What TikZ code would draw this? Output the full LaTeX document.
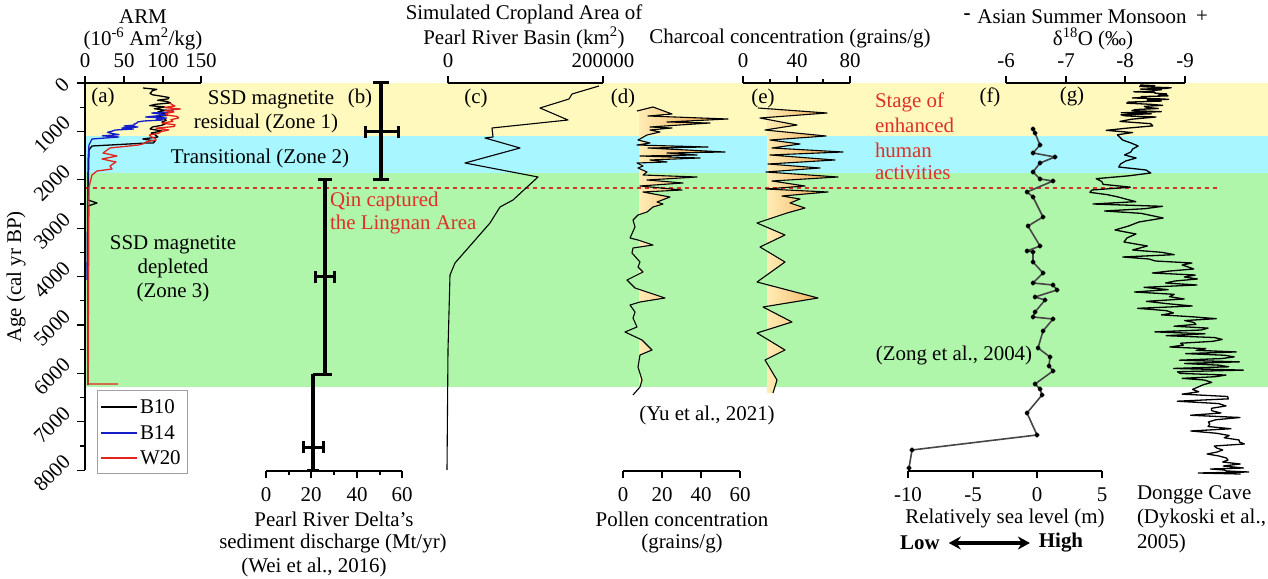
\documentclass[tikz,border=0pt]{standalone}
\usepackage{fontspec}
\setmainfont{Liberation Serif}
\usetikzlibrary{arrows.meta,calc}
\definecolor{bandY}{RGB}{255,249,190}
\definecolor{bandC}{RGB}{168,246,255}
\definecolor{bandG}{RGB}{176,246,170}
\definecolor{redtxt}{RGB}{222,48,38}
\definecolor{armblue}{RGB}{20,30,200}
\definecolor{armred}{RGB}{228,35,30}
\definecolor{cream}{RGB}{255,236,180}
\definecolor{orng}{RGB}{236,150,55}
\definecolor{seagray}{RGB}{70,70,70}
\definecolor{leggray}{RGB}{160,160,160}
\def\dpath{(637,111) -- (653,107) -- (672,114) -- (648,116) -- (728,119) -- (667,122) -- (710,123) -- (650,127) -- (672,128) -- (650,130) -- (660,132) -- (647,135) -- (638,140) -- (650,143) -- (637,145) -- (708,147) -- (648,148) -- (725,152) -- (667,153) -- (697,155) -- (640,156) -- (700,158) -- (650,160) -- (667,162) -- (637,163) -- (643,166) -- (638,168) -- (647,172) -- (643,175) -- (697,177) -- (647,180) -- (683,183) -- (640,186) -- (682,190) -- (643,192) -- (670,197) -- (657,202) -- (663,204) -- (653,207) -- (647,212) -- (638,215) -- (633,220) -- (635,227) -- (630,238) -- (638,240) -- (653,245) -- (633,248) -- (632,253) -- (640,262) -- (638,267) -- (643,272) -- (627,280) -- (635,288) -- (665,298) -- (640,302) -- (630,305) -- (635,312) -- (633,318) -- (637,327) -- (625,332) -- (642,340) -- (652,350) -- (640,355) -- (638,367) -- (642,380) -- (640,387) -- (633,395)}
\def\epath{(758,108) -- (827,113) -- (760,118) -- (797,125) -- (765,130) -- (826,136) -- (770,140) -- (800,144) -- (772,148) -- (843,152) -- (770,155) -- (835,160) -- (768,164) -- (820,168) -- (766,172) -- (838,177) -- (772,181) -- (805,186) -- (766,189) -- (828,192) -- (782,196) -- (800,199) -- (790,203) -- (805,208) -- (787,213) -- (757,223) -- (785,235) -- (760,247) -- (785,262) -- (757,282) -- (818,298) -- (763,307) -- (792,322) -- (757,333) -- (785,350) -- (765,360) -- (777,380) -- (773,393)}
\begin{document}
\begin{tikzpicture}[x=1bp,y=-1bp,
  every node/.style={font=\fontsize{21}{25}\selectfont, inner sep=0pt, outer sep=0pt},
  axisline/.style={line width=1.1bp, black},
  thickbar/.style={line width=4.2bp, black},
  errbar/.style={line width=3bp, black},
  curveline/.style={line width=1.1bp, black, line join=round},
  armline/.style={line width=1.3bp, line join=round},
  redlab/.style={text=redtxt},
  ]
\useasboundingbox (0,0) rectangle (1268,579);
\fill[white] (0,0) rectangle (1268,579);
% zone bands
\fill[bandY] (86,83) rectangle (1268,136);
\fill[bandC] (86,136) rectangle (1268,173);
\fill[bandG] (86,173) rectangle (1268,387);
% legend
\draw[leggray, line width=0.8bp, fill=white] (97,390) rectangle (187,473);
\draw[black, line width=1.1bp] (101,407) -- (137,407);
\draw[armblue, line width=1.1bp] (101,433) -- (137,433);
\draw[armred, line width=1.1bp] (101,458) -- (137,458);
\node[anchor=west] (lb10) at (140,407) {B10};
\node[anchor=west] (lb14) at (140,433) {B14};
\node[anchor=west] (lw20) at (140,458) {W20};
% fills of (d) and (e)
\begin{scope}
 \clip \dpath -- (639,395) -- (639,111) -- cycle;
 \clip (639,80) rectangle (760,400);
 \shade[left color=cream,right color=orng] (639,80) rectangle (735,400);
\end{scope}
\begin{scope}
 \clip \epath -- (767,393) -- (767,108) -- cycle;
 \clip (767,80) rectangle (880,400);
 \shade[left color=cream,right color=orng] (767,80) rectangle (850,400);
\end{scope}
% red dotted line
\draw[redtxt, line width=2bp, dash pattern=on 4bp off 4bp] (85,188) -- (1217,188);
% (d), (e) curves
\draw[curveline] \dpath;
\draw[curveline] \epath;
% (c) cropland
\draw[curveline] plot coordinates {(599,86) (572,94) (569,99) (540,108) (568,120) (492,128) (493,137) (485,138) (520,148) (465,163) (538,177) (513,200) (500,207) (490,223) (455,263) (450,275) (448,350) (447,470)};
% ARM curves
\pgfmathsetseed{11}
\draw[armline, black] (143,88) \foreach \ya/\yb/\xa/\xb/\am/\n in {88/107/156/160/14/14, 107/127/163/160/10/12, 127/143/155/150/12/8}{ \foreach \k in {1,...,\n}{ -- ({\xa+(\xb-\xa)*\k/\n+\am*rand},{\ya+(\yb-\ya)*\k/\n}) } } -- (147,143) -- (92,146) -- (89,150) -- (88,200) -- (97,203) -- (88,206) -- (88,385);
\draw[armline, armblue] (165,110) \foreach \ya/\yb/\xa/\xb/\am/\n in {110/122/165/150/14/12, 122/130/145/125/14/8, 130/137/120/110/10/6}{ \foreach \k in {1,...,\n}{ -- ({\xa+(\xb-\xa)*\k/\n+\am*rand},{\ya+(\yb-\ya)*\k/\n}) } } -- (92,139) -- (89,145) -- (88,160) -- (87,280);
\draw[armline, armred] (170,103) \foreach \ya/\yb/\xa/\xb/\am/\n in {103/118/172/175/9/10, 118/135/170/160/11/10, 135/145/155/140/12/6}{ \foreach \k in {1,...,\n}{ -- ({\xa+(\xb-\xa)*\k/\n+\am*rand},{\ya+(\yb-\ya)*\k/\n}) } } -- (110,148) -- (103,153) -- (117,156) -- (102,159) -- (116,162) -- (110,166) -- (112,169) -- (97,171) -- (92,175) -- (89,187) -- (88,384) -- (118,384);
% (g) d18O
\pgfmathsetseed{7}
\draw[curveline, line width=1.3bp] (1140,85) \foreach \ya/\yb/\xa/\xb/\am/\n in {85/100/1150/1148/22/22, 100/117/1145/1140/20/16, 117/137/1130/1125/25/9, 137/173/1135/1135/17/12, 173/190/1118/1115/25/6, 190/218/1120/1125/45/12, 218/250/1125/1130/22/8, 250/257/1150/1160/40/3, 257/285/1168/1172/28/14, 285/313/1165/1170/32/12, 313/347/1180/1190/35/18, 347/380/1205/1210/35/20, 380/413/1200/1205/28/14, 413/440/1215/1220/28/12, 440/468/1222/1225/22/14, 468/474/1215/1210/40/6}{ \foreach \k in {1,...,\n}{ -- ({\xa+(\xb-\xa)*\k/\n+\am*rand},{\ya+(\yb-\ya)*\k/\n}) } };
% (f) sea level
\draw[seagray, line width=1.6bp, line join=round] plot[mark=*, mark size=1.7pt, mark options={fill=black, draw=black}] coordinates {(1033,129) (1035,133) (1040,145) (1033,153) (1055,157) (1040,163) (1033,172) (1040,179) (1053,181) (1027,192) (1033,197) (1043,217) (1028,226) (1040,246) (1027,251) (1033,252) (1033,262) (1043,273) (1033,283) (1053,285) (1057,290) (1035,297) (1045,300) (1035,312) (1033,317) (1053,319) (1043,331) (1038,348) (1050,357) (1049,366) (1053,371) (1035,384) (1040,389) (1042,395) (1027,413) (1037,435) (912,450) (909,468)};
% (b) sediment discharge bars
\draw[thickbar] (381,83) -- (381,180);
\draw[errbar] (373,83) -- (389,83) (373,180) -- (389,180);
\draw[errbar] (365,132) -- (398,132) (365,126) -- (365,138) (398,126) -- (398,138);
\draw[thickbar] (325,180) -- (325,374);
\draw[errbar] (318,180) -- (332,180) (313,374) -- (332,374);
\draw[errbar] (315,277) -- (334,277) (315,271) -- (315,283) (334,271) -- (334,283);
\draw[thickbar] (313,374) -- (313,470);
\draw[errbar] (307,470) -- (319,470);
\draw[errbar] (303,447) -- (323,447) (303,441) -- (303,453) (323,441) -- (323,453);
% left age axis
\draw[axisline] (85,83) -- (85,470);
\foreach \a in {0,...,8} \draw[axisline] (77,{83+48.4*\a}) -- (85,{83+48.4*\a});
\foreach \a in {0.5,1.5,...,7.5} \draw[axisline] (80,{83+48.4*\a}) -- (85,{83+48.4*\a});
\node[rotate=45] (t0) at (62,85) {0};
\foreach \a in {1,...,8} \node[rotate=45] at (52,{86+48.4*\a}) {\a000};
\node[rotate=90] (agelab) at (16,277) {Age (cal yr BP)};
% top axes
\draw[axisline] (85,83) -- (201,83);
\foreach \x in {85,124,163,201} \draw[axisline] (\x,83) -- (\x,76);
\draw[axisline] (448,83) -- (603,83) (448,83) -- (448,76) (603,83) -- (603,76);
\draw[axisline] (743,83) -- (850,83);
\foreach \x in {743,797,850} \draw[axisline] (\x,83) -- (\x,76);
\foreach \x in {770,823} \draw[axisline] (\x,83) -- (\x,79);
\draw[axisline] (1006,83) -- (1185,83);
\foreach \x in {1006,1066,1125,1185} \draw[axisline] (\x,83) -- (\x,76);
% bottom axes
\draw[axisline] (266,471) -- (402,471);
\foreach \x in {266,311,357,402} \draw[axisline] (\x,471) -- (\x,478);
\foreach \x in {289,334,380} \draw[axisline] (\x,471) -- (\x,475);
\draw[axisline] (623,471) -- (740,471);
\foreach \x in {623,662,701,740} \draw[axisline] (\x,471) -- (\x,478);
\draw[axisline] (908,471) -- (1102,471);
\foreach \x in {908,973,1037,1102} \draw[axisline] (\x,471) -- (\x,478);
% top labels
\node (armt) at (143,17) {ARM};
\node (armu) at (143,39) {(10\textsuperscript{-6} Am\textsuperscript{2}/kg)};
\node at (85,61) {0};
\node at (124,61) {50};
\node at (163,61) {100};
\node at (201,61) {150};
\node (cropt) at (524,14) {Simulated Cropland Area of};
\node (cropu) at (524,38) {Pearl River Basin (km\textsuperscript{2})};
\node at (448,61) {0};
\node at (603,61) {200000};
\node (chart) at (790,39) {Charcoal concentration (grains/g)};
\node at (743,61) {0};
\node at (797,61) {40};
\node at (850,61) {80};
\node (minus) at (967,17) {\textbf{-}};
\node (asm) at (1082,17) {Asian Summer Monsoon};
\node (plus) at (1202,17) {+};
\node (dO) at (1093,39) {δ\textsuperscript{18}O (‰)};
\node at (1006,61) {-6};
\node at (1066,61) {-7};
\node at (1125,61) {-8};
\node at (1185,61) {-9};
% bottom labels
\node at (266,495) {0};
\node at (311,495) {20};
\node at (357,495) {40};
\node at (402,495) {60};
\node (sed1) at (334,519) {Pearl River Delta's};
\node (sed2) at (333,543) {sediment discharge (Mt/yr)};
\node (sed3) at (314,567) {(Wei et al., 2016)};
\node at (623,495) {0};
\node at (662,495) {20};
\node at (701,495) {40};
\node at (740,495) {60};
\node (pol1) at (682,519) {Pollen concentration};
\node (pol2) at (682,543) {(grains/g)};
\node (yu) at (707,415) {(Yu et al., 2021)};
\node at (908,495) {-10};
\node at (973,495) {-5};
\node at (1037,495) {0};
\node at (1102,495) {5};
\node (sea) at (1005,518) {Relatively sea level (m)};
\node (low) at (920,543) {\textbf{Low}};
\node (high) at (1061,543) {\textbf{High}};
\coordinate (la) at ($(low.east)+(9,0)$);
\coordinate (ha) at ($(high.west)+(-9,0)$);
\draw[line width=3.4bp, {Stealth[length=12pt,width=13pt]}-{Stealth[length=12pt,width=13pt]}] (la) -- (ha);
\node[anchor=west] (dg1) at (1137,495) {Dongge Cave};
\node[anchor=west] (dg2) at (1137,518) {(Dykoski et al.,};
\node[anchor=west] (dg3) at (1137,543) {2005)};
% panel labels and zone texts
\node (pa) at (103,97) {(a)};
\node (pb) at (360,98) {(b)};
\node (pc) at (476,98) {(c)};
\node (pd) at (623,98) {(d)};
\node (pe) at (763,98) {(e)};
\node (pf) at (990,97) {(f)};
\node (pg) at (1072,97) {(g)};
\node (z1a) at (271,100) {SSD magnetite};
\node (z1b) at (266,123) {residual (Zone 1)};
\node (z2) at (260,158) {Transitional (Zone 2)};
\node (z3a) at (173,245) {SSD magnetite};
\node (z3b) at (173,268) {depleted};
\node (z3c) at (173,292) {(Zone 3)};
\node[redlab, anchor=west] (qin1) at (330,201) {Qin captured};
\node[redlab, anchor=west] (qin2) at (330,225) {the Lingnan Area};
\node[redlab, anchor=west] (st1) at (875,102) {Stage of};
\node[redlab, anchor=west] (st2) at (875,125) {enhanced};
\node[redlab, anchor=west] (st3) at (875,150) {human};
\node[redlab, anchor=west] (st4) at (875,173) {activities};
\node (zong) at (954,355) {(Zong et al., 2004)};
\end{tikzpicture}
\end{document}
